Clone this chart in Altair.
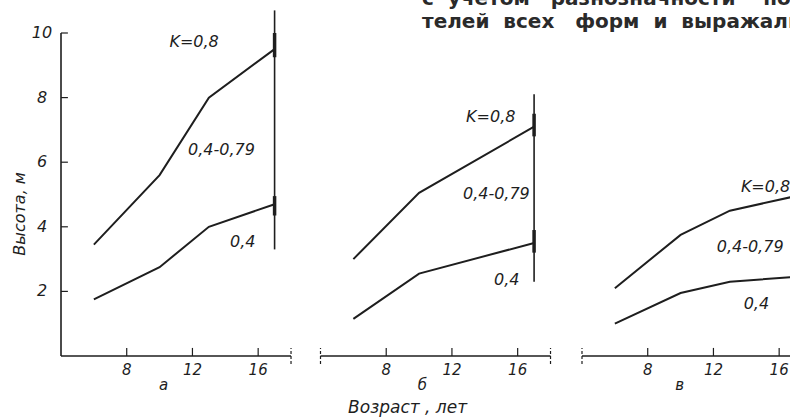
import altair as alt
import pandas as pd

# ---------------- data ----------------
ages_a = [6, 10, 13, 17]
a_k08 = [3.45, 5.6, 8.0, 9.5]
a_k04 = [1.75, 2.75, 4.0, 4.7]

ages_b = [6, 10, 17]
b_k08 = [3.0, 5.05, 7.1]
b_k04 = [1.15, 2.55, 3.5]

ages_c = [6, 10, 13, 17]
c_k08 = [2.1, 3.75, 4.5, 4.95]
c_k04 = [1.0, 1.95, 2.3, 2.45]

x_ticks = [8, 12, 16]
x_tick_labels = ["8", "12", "16"]
y_ticks = [2, 4, 6, 8, 10]
y_tick_labels = ["2", "4", "6", "8", "10"]
panel_letters = {"a": "а", "b": "б", "c": "в"}
curve_names = ["K=0,8", "0,4-0,79", "0,4"]
y_title = "Высота, м"
x_title = "Возраст , лет"
NB = "\u00a0"
top_line1 = f"с{NB*2}учетом{NB*3}разнозначности{NB*4}показа-"
top_line2 = f"телей{NB*2}всех{NB*3}форм{NB*2}и{NB*2}выражали"

# ---------------- geometry ----------------
W, H = 790, 418
PX_PER_YEAR = 16.43
PX_PER_M = 32.3
ZERO_PX = 356
LEFT = {"a": 61, "b": 320.5, "c": 582}
INK = "#1e1e1e"
FONT = "DejaVu Sans"


def xscale(p):
    return alt.Scale(domain=[4 - LEFT[p] / PX_PER_YEAR, 4 + (W - LEFT[p]) / PX_PER_YEAR],
                     nice=False, zero=False)


yscale = alt.Scale(domain=[-(H - ZERO_PX) / PX_PER_M, ZERO_PX / PX_PER_M], nice=False, zero=False)


def X(p, field="age"):
    return alt.X(f"{field}:Q", scale=xscale(p), axis=None)


def Y(field="value"):
    return alt.Y(f"{field}:Q", scale=yscale, axis=None)


def Y0(v):
    return alt.YDatum(v, scale=yscale, axis=None)


rows = []
for p, ages, hi, lo in [("a", ages_a, a_k08, a_k04), ("b", ages_b, b_k08, b_k04), ("c", ages_c, c_k08, c_k04)]:
    for ag, v in zip(ages, hi):
        rows.append(dict(panel=p, series="K=0,8", age=ag, value=v))
    for ag, v in zip(ages, lo):
        rows.append(dict(panel=p, series="0,4", age=ag, value=v))
lines_df = pd.DataFrame(rows)

axis_span = {"a": (4, 18), "b": (4, 18), "c": (4, 21)}
end_ticks = {"a": [18], "b": [4, 18], "c": [4]}
vert = {"a": (17, 3.3, 10.7), "b": (17, 2.3, 8.1)}
thick = {"a": [(9.25, 10.0), (4.35, 4.95)], "b": [(6.8, 7.5), (3.2, 3.9)]}
# left edge positions (age, value) of the curve labels
label_pos = {
    "a": [(10.6, 9.72), (11.73, 6.38), (14.29, 3.53)],
    "b": [(12.86, 7.4), (12.67, 5.02), (14.56, 2.35)],
    "c": [(13.67, 5.23), (12.2, 3.37), (13.84, 1.6)],
}
letter_pos = {"a": 10.25, "b": 10.2, "c": 9.95}

text_style = dict(font=FONT, fontStyle="italic", fontSize=15, color=INK)
label_style = dict(font=FONT, fontStyle="italic", fontSize=16, color=INK)

layers = []
for p in ["a", "b", "c"]:
    d = lines_df[lines_df.panel == p]
    layers.append(alt.Chart(d).mark_line(color=INK, strokeWidth=2).encode(
        x=X(p), y=Y(), detail="series:N"))
    s0, s1 = axis_span[p]
    layers.append(alt.Chart(pd.DataFrame({"age": [s0], "end": [s1]})).mark_rule(
        color=INK, strokeWidth=1.6).encode(x=X(p), x2="end:Q", y=Y0(0)))
    layers.append(alt.Chart(pd.DataFrame({"age": x_ticks})).mark_rule(
        color=INK, strokeWidth=1.2).encode(x=X(p), y=Y0(0), y2=alt.datum(0.25)))
    layers.append(alt.Chart(pd.DataFrame({"age": end_ticks[p]})).mark_rule(
        color=INK, strokeWidth=1.2, strokeDash=[3, 2]).encode(x=X(p), y=Y0(-0.25), y2=alt.datum(0.25)))
    layers.append(alt.Chart(pd.DataFrame({"age": x_ticks, "label": x_tick_labels})).mark_text(
        dy=14, baseline="middle", **text_style).encode(x=X(p), y=Y0(0), text="label:N"))
    layers.append(alt.Chart(pd.DataFrame({"age": [letter_pos[p]], "label": [panel_letters[p]]})).mark_text(
        baseline="middle", **text_style).encode(x=X(p), y=Y0(-0.9), text="label:N"))
    lp = label_pos[p]
    layers.append(alt.Chart(pd.DataFrame({"age": [q[0] for q in lp], "value": [q[1] for q in lp],
                                          "label": curve_names})).mark_text(
        align="left", baseline="middle", **label_style).encode(x=X(p), y=Y(), text="label:N"))
    if p in vert:
        ag, lo, hi = vert[p]
        layers.append(alt.Chart(pd.DataFrame({"age": [ag], "lo": [lo], "hi": [hi]})).mark_rule(
            color=INK, strokeWidth=1.6).encode(x=X(p), y=Y("lo"), y2="hi:Q"))
        layers.append(alt.Chart(pd.DataFrame({"age": [ag] * len(thick[p]),
                                              "lo": [t[0] for t in thick[p]],
                                              "hi": [t[1] for t in thick[p]]})).mark_rule(
            color=INK, strokeWidth=3.5).encode(x=X(p), y=Y("lo"), y2="hi:Q"))

# y axis of panel a
layers.append(alt.Chart(pd.DataFrame({"age": [4], "lo": [0], "hi": [10]})).mark_rule(
    color=INK, strokeWidth=1.6).encode(x=X("a"), y=Y("lo"), y2="hi:Q"))
layers.append(alt.Chart(pd.DataFrame({"age": [4] * 5, "value": y_ticks, "end": [4.42] * 5})).mark_rule(
    color=INK, strokeWidth=1.2).encode(x=X("a"), x2="end:Q", y=Y()))
layers.append(alt.Chart(pd.DataFrame({"age": [4] * 5, "value": y_ticks, "label": y_tick_labels})).mark_text(
    dx=-19, align="center", baseline="middle", **label_style).encode(x=X("a"), y=Y(), text="label:N"))
layers.append(alt.Chart(pd.DataFrame({"age": [4], "value": [4.4], "label": [y_title]})).mark_text(
    dy=-41, angle=270, align="center", baseline="middle", **label_style).encode(x=X("a"), y=Y(), text="label:N"))

# x title and top text (drawn in panel b's frame)
layers.append(alt.Chart(pd.DataFrame({"age": [9.3], "value": [-1.6], "label": [x_title]})).mark_text(
    align="center", baseline="middle", font=FONT, fontStyle="italic", fontSize=17, color=INK).encode(
    x=X("b"), y=Y(), text="label:N"))
layers.append(alt.Chart(pd.DataFrame({"age": [10.18, 10.18], "value": [10.87, 10.15],
                                      "label": [top_line1, top_line2]})).mark_text(
    align="left", baseline="alphabetic", font=FONT, fontWeight="bold", fontSize=20, color="#2a2a2a").encode(
    x=X("b"), y=Y(), text="label:N"))

chart = alt.layer(*layers).resolve_scale(x="independent").properties(
    width=W, height=H, autosize=alt.AutoSizeParams(type="none"), padding=0, background="white"
).configure_view(stroke=None)

chart.save("out.html", embed_options={"renderer": "svg", "actions": False})
